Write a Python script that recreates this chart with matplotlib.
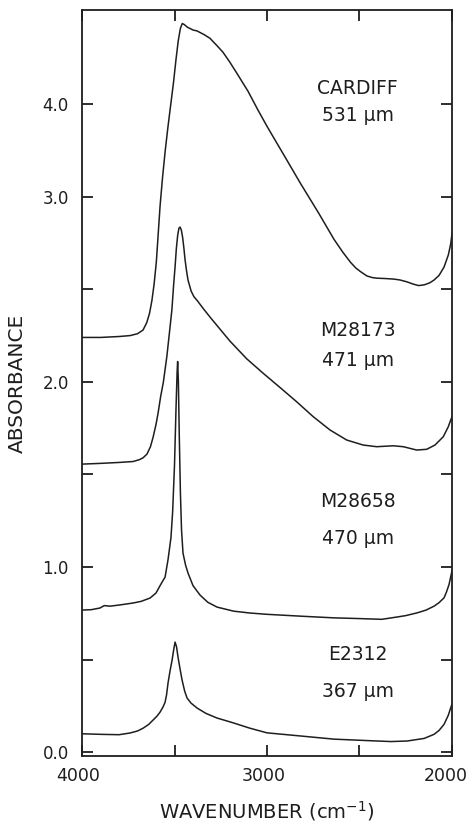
import matplotlib
matplotlib.use("Agg")
import matplotlib.pyplot as plt
from matplotlib.transforms import ScaledTranslation

# spectra: wavenumber (cm-1) and absorbance
cardiff_wn = [4000, 3900, 3800, 3740, 3700, 3670, 3650, 3635, 3622, 3610, 3598, 3588,
              3578, 3565, 3550, 3535, 3520, 3505, 3492, 3480, 3468, 3458, 3448, 3430,
              3400, 3378, 3340, 3308, 3270, 3238, 3200, 3162, 3103, 3050, 3000, 2900,
              2818, 2720, 2638, 2590, 2548, 2520, 2494, 2460, 2430, 2406, 2360, 2314,
              2280, 2243, 2210, 2180, 2150, 2120, 2097, 2070, 2043, 2020, 2007, 2000]
cardiff_ab = [2.24, 2.24, 2.245, 2.25, 2.26, 2.28, 2.32, 2.37, 2.44, 2.53, 2.65, 2.80,
              2.95, 3.10, 3.25, 3.38, 3.50, 3.62, 3.74, 3.84, 3.91, 3.935, 3.93, 3.915,
              3.90, 3.895, 3.875, 3.855, 3.815, 3.78, 3.725, 3.665, 3.57, 3.47, 3.38, 3.21,
              3.07, 2.91, 2.77, 2.70, 2.645, 2.615, 2.595, 2.572, 2.563, 2.56, 2.558, 2.555,
              2.55, 2.54, 2.528, 2.52, 2.524, 2.535, 2.55, 2.575, 2.62, 2.685, 2.745, 2.80]

m28173_wn = [4000, 3900, 3800, 3724, 3690, 3670, 3649, 3630, 3616, 3600, 3589, 3575,
             3560, 3541, 3528, 3514, 3505, 3497, 3490, 3483, 3476, 3470, 3463, 3456,
             3449, 3443, 3435, 3427, 3410, 3395, 3378, 3340, 3308, 3250, 3200, 3110,
             3020, 2930, 2840, 2750, 2659, 2569, 2480, 2407, 2317, 2263, 2191, 2137,
             2092, 2047, 2020, 2007, 2000]
m28173_ab = [1.556, 1.56, 1.565, 1.57, 1.58, 1.59, 1.61, 1.65, 1.70, 1.77, 1.83, 1.92,
             2.00, 2.14, 2.26, 2.39, 2.52, 2.62, 2.72, 2.79, 2.83, 2.836, 2.82, 2.78,
             2.72, 2.66, 2.60, 2.55, 2.49, 2.46, 2.44, 2.39, 2.35, 2.28, 2.22, 2.125,
             2.046, 1.970, 1.893, 1.812, 1.740, 1.686, 1.659, 1.650, 1.655, 1.650, 1.632, 1.636,
             1.659, 1.704, 1.758, 1.794, 1.81]

m28658_wn = [4000, 3950, 3903, 3880, 3849, 3800, 3724, 3680, 3632, 3600, 3578, 3551,
             3535, 3519, 3510, 3500, 3492, 3486, 3483, 3479, 3474, 3468, 3462, 3454,
             3440, 3427, 3400, 3362, 3320, 3270, 3180, 3092, 3000, 2818, 2640, 2500,
             2380, 2300, 2250, 2188, 2140, 2097, 2070, 2043, 2030, 2016, 2000]
m28658_ab = [0.768, 0.77, 0.779, 0.792, 0.789, 0.795, 0.806, 0.815, 0.833, 0.86, 0.90, 0.946,
             1.04, 1.16, 1.30, 1.55, 1.85, 2.05, 2.11, 2.00, 1.70, 1.40, 1.20, 1.075,
             1.01, 0.968, 0.90, 0.849, 0.81, 0.784, 0.762, 0.752, 0.745, 0.735, 0.726, 0.722,
             0.718, 0.73, 0.738, 0.753, 0.768, 0.789, 0.808, 0.834, 0.865, 0.906, 0.98]

e2312_wn = [4000, 3900, 3800, 3741, 3700, 3670, 3640, 3616, 3595, 3578, 3562, 3551,
            3543, 3535, 3524, 3513, 3505, 3497, 3489, 3481, 3470, 3459, 3445, 3432,
            3410, 3378, 3330, 3270, 3186, 3092, 3000, 2818, 2638, 2500, 2404, 2330,
            2242, 2150, 2097, 2070, 2043, 2020, 2007, 2000]
e2312_ab = [0.10, 0.097, 0.095, 0.104, 0.115, 0.13, 0.15, 0.174, 0.195, 0.217, 0.245, 0.27,
            0.31, 0.374, 0.44, 0.498, 0.55, 0.595, 0.57, 0.514, 0.45, 0.39, 0.33, 0.293,
            0.265, 0.239, 0.21, 0.185, 0.16, 0.13, 0.105, 0.088, 0.071, 0.065, 0.061, 0.058,
            0.061, 0.075, 0.097, 0.118, 0.151, 0.20, 0.24, 0.26]

names = ["CARDIFF", "M28173", "M28658", "E2312"]
thick = ["531 µm", "471 µm", "470 µm", "367 µm"]
label_y = [3.586, 2.28, 1.356, 0.53]
thick_y = [3.44, 2.118, 1.157, 0.33]

x_ticks = [4000, 3500, 3000, 2500, 2000]
x_ticklabels = ["4000", "", "3000", "", "2000"]
y_ticks = [0, 0.5, 1.0, 1.5, 2.0, 2.5, 3.0, 3.5]
y_ticklabels = ["0.0", "", "1.0", "", "2.0", "", "3.0", "4.0"]

ink = "#1e1e1e"
fig = plt.figure(figsize=(4.68, 8.22), dpi=100)
ax = fig.add_axes([82 / 468, 66 / 822, 370 / 468, 746 / 822])

for wn, ab in [(cardiff_wn, cardiff_ab), (m28173_wn, m28173_ab),
               (m28658_wn, m28658_ab), (e2312_wn, e2312_ab)]:
    ax.plot(wn, ab, color=ink, lw=1.1, solid_joinstyle="round")

for n, t, yn, yt in zip(names, thick, label_y, thick_y):
    ax.text(2510, yn, n, ha="center", va="center", fontsize=13.5, color=ink)
    ax.text(2510, yt, t, ha="center", va="center", fontsize=13.5, color=ink)

ax.set_xlim(4000, 2000)
ax.set_ylim(-0.02, 4.008)
ax.set_xticks(x_ticks, x_ticklabels)
ax.set_yticks(y_ticks, y_ticklabels)
ax.tick_params(direction="in", length=8, width=1.3, color=ink, labelcolor=ink,
               top=True, right=True)
ax.tick_params(axis="x", labelsize=12.5, pad=8)
ax.tick_params(axis="y", labelsize=12, pad=9.5)
for s in ax.spines.values():
    s.set_linewidth(1.3)
    s.set_color(ink)

ax.set_xlabel("WAVENUMBER (cm$^{-1}$)", fontsize=14, color=ink, labelpad=10)
ax.set_ylabel("ABSORBANCE", fontsize=14.5, color=ink, labelpad=11)

# the printed labels sit a little left of their ticks
for lbl, dx in zip(ax.get_xticklabels(), [-4, 0, -3, 0, -6]):
    lbl.set_transform(lbl.get_transform() + ScaledTranslation(dx / 100, 0, fig.dpi_scale_trans))

fig.savefig("out.png", dpi=100)
